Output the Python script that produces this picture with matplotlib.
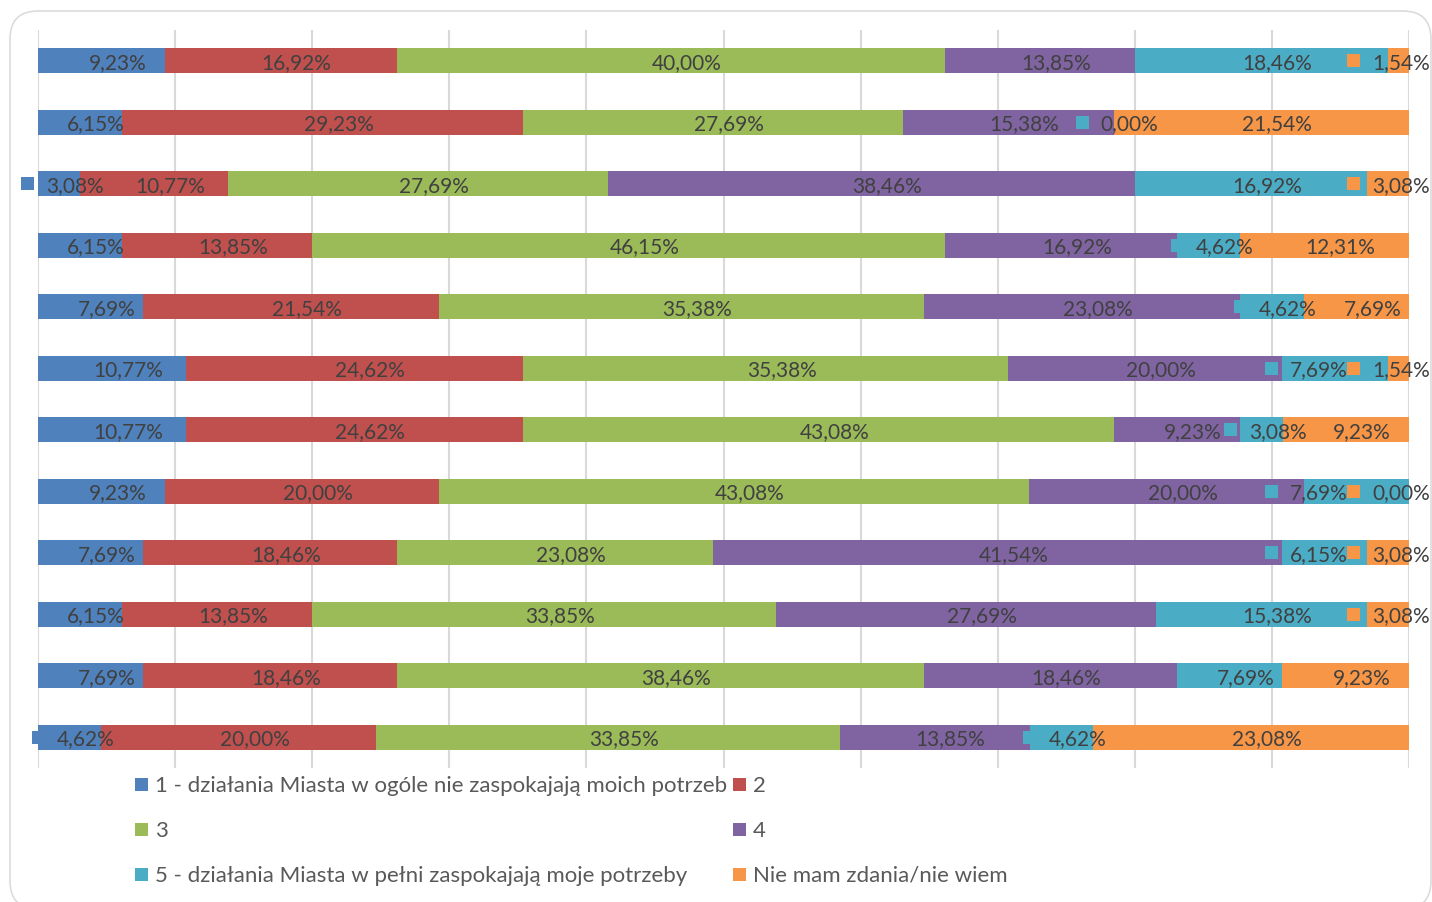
import matplotlib
matplotlib.use('Agg')
import numpy as np
import matplotlib.pyplot as plt
from matplotlib.patches import Rectangle, FancyBboxPatch
from matplotlib.transforms import IdentityTransform

plt.rcParams['font.family'] = ['Lato', 'DejaVu Sans']

# Serie (kategorie odpowiedzi)
series = ['1 - działania Miasta w ogóle nie zaspokajają moich potrzeb', '2', '3', '4',
          '5 - działania Miasta w pełni zaspokajają moje potrzeby', 'Nie mam zdania/nie wiem']
colors = ['#4F81BD', '#C0504D', '#9BBB59', '#8064A2', '#4BACC6', '#F79646']

# Wartości (%) dla 12 pytań, od góry do dołu
s1 = [9.23, 6.15, 3.08, 6.15, 7.69, 10.77, 10.77, 9.23, 7.69, 6.15, 7.69, 4.62]
s2 = [16.92, 29.23, 10.77, 13.85, 21.54, 24.62, 24.62, 20.00, 18.46, 13.85, 18.46, 20.00]
s3 = [40.00, 27.69, 27.69, 46.15, 35.38, 35.38, 43.08, 43.08, 23.08, 33.85, 38.46, 33.85]
s4 = [13.85, 15.38, 38.46, 16.92, 23.08, 20.00, 9.23, 20.00, 41.54, 27.69, 18.46, 13.85]
s5 = [18.46, 0.00, 16.92, 4.62, 4.62, 7.69, 3.08, 7.69, 6.15, 15.38, 7.69, 4.62]
s6 = [1.54, 21.54, 3.08, 12.31, 7.69, 1.54, 9.23, 0.00, 3.08, 3.08, 9.23, 23.08]
data = np.array([s1, s2, s3, s4, s5, s6])

W, H = 1432, 903
fig = plt.figure(figsize=(W / 100, H / 100), dpi=100)
ax = fig.add_axes([38 / W, 1 - 769 / H, 1371 / W, 738 / H])

# ramka wykresu
frame = FancyBboxPatch((10, H - 910), 1421, 898, boxstyle='round,pad=0,rounding_size=28',
                       transform=IdentityTransform(), facecolor='white',
                       edgecolor='#d9d9d9', linewidth=1.1, zorder=-5)
fig.add_artist(frame)

n = data.shape[1]
rows = np.arange(n)
left = np.zeros(n)
for j in range(6):
    ax.barh(rows, data[j], left=left, height=0.41, color=colors[j], zorder=2)
    left += data[j]

ax.set_xlim(0, 100)
ax.set_ylim(n - 0.5, -0.5)
ax.set_xticks(np.arange(0, 101, 10))
ax.set_yticks([])
ax.tick_params(axis='x', length=0, labelbottom=False)
ax.xaxis.grid(True, color='#d9d9d9', linewidth=1.5, zorder=0)
ax.set_axisbelow(True)
for sp in ax.spines.values():
    sp.set_visible(False)
ax.patch.set_alpha(0)

# etykiety danych z kluczem legendy (jak w Excelu)
fig.canvas.draw()
renderer = fig.canvas.get_renderer()
ident = IdentityTransform()
right_limit = 1430
cum = np.cumsum(data, axis=0) - data
for i in range(n):
    next_key_left = None
    for j in reversed(range(6)):
        v = data[j, i]
        c = cum[j, i] + v / 2
        cx, cy = ax.transData.transform((c, i))
        txt = fig.text(cx + 16, cy - 1, f'{v:.2f}%'.replace('.', ','), transform=ident,
                       ha='center', va='center', fontsize=15, color='#404040', zorder=4)
        w = txt.get_window_extent(renderer).width
        x = cx + 16
        if x + w / 2 > right_limit:
            x = right_limit - w / 2
        if next_key_left is not None and x + w / 2 > next_key_left:
            x = next_key_left - w / 2
        txt.set_x(x)
        key_left = x - w / 2 - 25
        fig.add_artist(Rectangle((key_left, cy - 6.5), 13, 13, transform=ident,
                                 facecolor=colors[j], edgecolor='none', zorder=3))
        next_key_left = key_left

# legenda
leg_x = [135, 733]
leg_y = [785, 830, 875]
for k, name in enumerate(series):
    x = leg_x[k % 2]
    y = H - leg_y[k // 2]
    fig.add_artist(Rectangle((x, y - 6.5), 13, 13, transform=ident,
                             facecolor=colors[k], edgecolor='none'))
    fig.text(x + 20, y - 1, name, transform=ident, ha='left', va='center',
             fontsize=16, color='#595959')

fig.savefig('out.png', dpi=100)
